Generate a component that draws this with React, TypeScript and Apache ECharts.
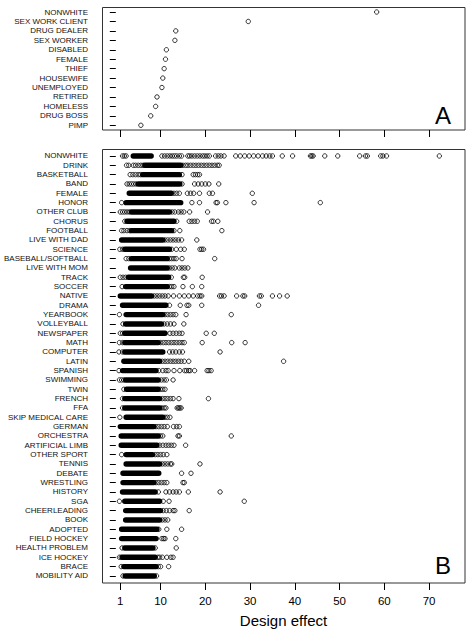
import React, { useEffect, useRef } from "react";
import * as echarts from "echarts";

const FONT = "'Liberation Sans', Arial, Helvetica, sans-serif";

const topCats = [
  "NONWHITE", "SEX WORK CLIENT", "DRUG DEALER", "SEX WORKER", "DISABLED", "FEMALE",
  "THIEF", "HOUSEWIFE", "UNEMPLOYED", "RETIRED", "HOMELESS", "DRUG BOSS", "PIMP",
];
const topVals = [58.3, 29.6, 13.4, 13.2, 11.3, 11.1, 10.8, 10.5, 10.3, 9.2, 8.9, 7.8, 5.6];

const cats = [
  "NONWHITE", "DRINK", "BASKETBALL", "BAND", "FEMALE", "HONOR", "OTHER CLUB", "CHORUS",
  "FOOTBALL", "LIVE WITH DAD", "SCIENCE", "BASEBALL/SOFTBALL", "LIVE WITH MOM", "TRACK",
  "SOCCER", "NATIVE", "DRAMA", "YEARBOOK", "VOLLEYBALL", "NEWSPAPER", "MATH", "COMPUTER",
  "LATIN", "SPANISH", "SWIMMING", "TWIN", "FRENCH", "FFA", "SKIP MEDICAL CARE", "GERMAN",
  "ORCHESTRA", "ARTIFICIAL LIMB", "OTHER SPORT", "TENNIS", "DEBATE", "WRESTLING", "HISTORY",
  "SGA", "CHEERLEADING", "BOOK", "ADOPTED", "FIELD HOCKEY", "HEALTH PROBLEM", "ICE HOCKEY",
  "BRACE", "MOBILITY AID",
];

// extent of the solid (heavily overplotted) run of points in each row
const denseLo = [
  3.9, 6.5, 6.0, 5.0, 3.0, 2.3, 3.5, 2.5, 3.5, 1.3, 2.0, 3.5, 3.3, 2.8, 2.2, 1.0,
  1.5, 2.3, 2.2, 2.0, 2.0, 2.0, 1.8, 1.5, 2.2, 2.4, 2.0, 2.0, 2.3, 1.0, 1.2, 1.2,
  2.3, 2.3, 1.6, 1.6, 1.5, 2.0, 2.2, 2.2, 1.3, 1.3, 2.0, 1.5, 1.8, 2.1,
];
const denseHi = [
  7.9, 14.5, 14.2, 14.3, 12.4, 14.5, 12.0, 13.0, 12.5, 10.5, 12.0, 11.5, 11.5, 11.8, 11.5, 8.0,
  11.2, 10.5, 10.2, 11.0, 9.5, 10.5, 9.8, 9.0, 9.5, 9.5, 9.8, 9.8, 10.5, 8.5, 9.5, 9.2,
  8.2, 9.8, 9.6, 8.5, 8.8, 9.8, 10.0, 9.8, 9.2, 9.0, 8.3, 8.8, 9.0, 8.6,
];

// separately visible points in each row
const points: number[][] = [
  [1.5, 1.9, 2.3, 10.3, 10.9, 11.5, 12.1, 12.6, 13.1, 13.6, 14.2, 14.7, 16.1, 16.5, 17.0, 17.6, 18.2, 18.8, 19.4, 19.9, 20.4, 20.9, 22.3, 22.9, 23.5, 24.2, 26.8, 27.8, 28.8, 29.8, 30.8, 31.8, 32.8, 33.6, 34.4, 35.0, 37.2, 39.5, 43.5, 43.8, 44.1, 46.7, 49.6, 54.5, 55.8, 56.2, 59.2, 59.7, 60.5, 72.3],
  [2.4, 2.9, 3.9, 4.4, 5.0, 5.6, 6.1, 15.0, 15.6, 16.1, 16.7, 17.3, 17.9, 18.5, 19.1, 19.7, 20.3, 20.9, 21.5, 22.1, 22.7, 23.1],
  [3.2, 3.8, 4.4, 5.0, 5.5, 14.8, 17.3, 17.8, 18.3, 18.7],
  [2.5, 3.0, 3.5, 4.0, 4.5, 14.8, 17.6, 18.4, 19.2, 20.0, 20.8, 23.0],
  [13.0, 13.6, 14.2, 16.0, 16.7, 17.4, 18.7, 20.9, 21.6, 30.5],
  [1.3, 17.0, 18.7, 22.4, 22.7, 24.6, 30.9, 45.7],
  [1.0, 1.5, 2.0, 2.5, 3.0, 12.6, 13.2, 14.0, 14.6, 15.2, 16.5, 20.5],
  [2.0, 13.6, 16.4, 17.0, 17.6, 18.2, 21.4, 21.8, 22.8],
  [1.3, 1.8, 2.5, 3.1, 13.0, 14.3, 23.7],
  [11.0, 11.6, 12.2, 12.8, 13.4, 14.0, 14.7, 18.1],
  [0.9, 1.5, 12.5, 13.5, 14.5, 15.3, 18.8, 19.2, 19.6],
  [2.3, 2.9, 12.0, 12.5, 13.0, 13.5, 14.8, 22.1],
  [12.0, 12.6, 13.2, 14.2, 14.8, 15.4, 16.1],
  [1.0, 1.6, 2.2, 12.4, 15.1, 15.4, 19.3],
  [1.4, 12.0, 12.5, 13.0, 15.0, 17.1, 19.2],
  [8.6, 9.2, 9.8, 10.4, 11.0, 11.7, 12.9, 14.2, 15.3, 16.3, 17.3, 18.3, 18.8, 19.2, 23.2, 23.6, 24.2, 27.0, 28.4, 28.8, 32.1, 32.5, 35.0, 36.6, 38.3],
  [12.0, 14.4, 15.9, 16.3, 19.2, 31.9],
  [0.8, 11.0, 11.6, 12.2, 12.8, 13.4, 15.7, 25.8],
  [1.6, 10.8, 11.5, 12.2, 13.0, 15.2],
  [1.0, 1.5, 12.1, 12.8, 13.5, 14.2, 14.8, 20.2, 22.0],
  [0.8, 1.5, 10.0, 10.6, 11.2, 11.8, 12.4, 13.0, 13.6, 14.2, 14.8, 15.3, 19.3, 25.9, 28.9],
  [0.7, 1.5, 12.0, 12.7, 13.4, 14.2, 14.9, 23.3],
  [10.4, 11.0, 11.6, 12.2, 12.8, 13.4, 14.0, 14.6, 15.3, 16.3, 37.5],
  [0.7, 9.6, 10.5, 11.2, 11.7, 13.0, 14.3, 15.4, 15.8, 16.3, 16.6, 17.6, 20.4, 20.8, 21.3],
  [0.8, 1.3, 1.8, 10.2, 10.8, 11.3, 12.8],
  [1.8, 10.0, 10.5, 11.0],
  [1.5, 10.4, 11.0, 11.6, 12.2, 12.8, 14.1, 20.7],
  [1.5, 10.3, 10.8, 11.2, 13.7, 14.0, 14.3, 14.6],
  [0.9, 11.0, 11.5, 12.1],
  [9.0, 9.6, 10.2, 10.8, 11.5, 12.9, 13.6, 14.2],
  [10.0, 10.5, 13.9, 14.2, 25.8],
  [9.8, 10.5, 11.2, 11.8, 12.4, 13.0, 15.6],
  [1.3, 8.8, 9.4, 10.0, 10.6, 11.4],
  [10.4, 11.0, 11.6, 12.2, 12.5, 18.8],
  [14.7, 16.8],
  [9.0, 9.6, 10.2, 10.8, 11.4, 15.0, 15.3],
  [9.5, 11.2, 12.0, 12.8, 13.5, 14.2, 16.2, 23.3],
  [0.8, 10.6, 11.9, 28.7],
  [10.6, 11.3, 12.0, 12.8, 13.2, 16.4],
  [10.4, 11.0, 11.6],
  [9.6, 11.4, 14.7],
  [10.3, 10.7, 11.0, 13.4],
  [1.4, 8.8, 13.5],
  [0.8, 1.2, 9.4, 9.8, 10.4, 11.4, 12.3, 12.8],
  [1.2, 9.5, 10.0, 11.8],
  [1.6, 9.1],
];

const xTicks = [1, 10, 20, 30, 40, 50, 60, 70];
const X_MIN = -3.09;
const X_MAX = 78.04;

const SYM = 4.4;
const BAND_H = 5.4;

export default function App() {
  const ref = useRef<HTMLDivElement>(null);
  useEffect(() => {
    if (!ref.current) return;
    const chart = echarts.init(ref.current, null, { renderer: "svg" });

    const xCommon = (gi: number, showLabels: boolean, offset: number) => ({
      type: "value",
      gridIndex: gi,
      min: X_MIN,
      max: X_MAX,
      offset,
      axisLine: { show: false },
      axisTick: {
        show: true,
        length: 7,
        inside: false,
        customValues: xTicks,
        lineStyle: { color: "#000", width: 1 },
      },
      axisLabel: {
        show: showLabels,
        customValues: xTicks,
        fontSize: 11.5,
        fontFamily: FONT,
        color: "#000",
        margin: 12,
      },
      splitLine: { show: false },
      name: showLabels ? "Design effect" : "",
      nameLocation: "middle",
      nameGap: 30,
      nameTextStyle: { fontSize: 15, fontFamily: FONT, color: "#000" },
    });

    const yCommon = (gi: number, data: string[]) => ({
      type: "category",
      gridIndex: gi,
      data,
      inverse: true,
      boundaryGap: true,
      axisLine: { show: false },
      axisTick: {
        show: true,
        alignWithLabel: true,
        length: 6,
        lineStyle: { color: "#000", width: 1 },
      },
      axisLabel: {
        interval: 0,
        fontSize: 8,
        fontFamily: FONT,
        color: "#111",
        margin: 14,
      },
      splitLine: { show: false },
    });

    const circleStyle = {
      color: "rgba(0,0,0,0)",
      borderColor: "#000",
      borderWidth: 1,
    };

    const option: any = {
      animation: false,
      backgroundColor: "#fff",
      textStyle: { fontFamily: FONT },
      grid: [
        { left: 102, top: 7.3, width: 363, height: 122.7 },
        { left: 102, top: 151.3, width: 363, height: 429.3 },
      ],
      xAxis: [xCommon(0, false, 0), xCommon(1, true, 2.4)],
      yAxis: [yCommon(0, topCats), yCommon(1, cats)],
      series: [
        {
          type: "scatter",
          xAxisIndex: 0,
          yAxisIndex: 0,
          symbol: "circle",
          symbolSize: SYM,
          itemStyle: circleStyle,
          data: topVals.map((v, i) => [v, i]),
        },
        {
          type: "custom",
          xAxisIndex: 1,
          yAxisIndex: 1,
          data: cats.map((_, i) => [denseLo[i], denseHi[i], i]),
          encode: { x: [0, 1], y: 2 },
          renderItem: (_params: any, api: any) => {
            const a = api.coord([api.value(0), api.value(2)]);
            const b = api.coord([api.value(1), api.value(2)]);
            return {
              type: "rect",
              shape: {
                x: a[0] - BAND_H / 2,
                y: a[1] - BAND_H / 2,
                width: b[0] - a[0] + BAND_H,
                height: BAND_H,
                r: BAND_H / 2,
              },
              style: { fill: "#000" },
            };
          },
        },
        {
          type: "scatter",
          xAxisIndex: 1,
          yAxisIndex: 1,
          symbol: "circle",
          symbolSize: SYM,
          itemStyle: circleStyle,
          data: points.flatMap((arr, i) => arr.map((v) => [v, i])),
        },
      ],
      graphic: [
        {
          type: "rect",
          silent: true,
          shape: { x: 102.5, y: 7.5, width: 362.5, height: 122.5 },
          style: { fill: "none", stroke: "#333", lineWidth: 1 },
        },
        {
          type: "rect",
          silent: true,
          shape: { x: 102.5, y: 149.5, width: 362.5, height: 433.5 },
          style: { fill: "none", stroke: "#333", lineWidth: 1 },
        },
        {
          type: "text",
          x: 451,
          y: 115.7,
          style: {
            text: "A",
            fontSize: 24,
            fontFamily: FONT,
            fill: "#000",
            textAlign: "right",
            textVerticalAlign: "middle",
          },
        },
        {
          type: "text",
          x: 451,
          y: 565.7,
          style: {
            text: "B",
            fontSize: 24,
            fontFamily: FONT,
            fill: "#000",
            textAlign: "right",
            textVerticalAlign: "middle",
          },
        },
      ],
    };

    chart.setOption(option);
    return () => chart.dispose();
  }, []);

  return (
    <div
      ref={ref}
      style={{ position: "absolute", left: 0, top: 0, width: 470, height: 634 }}
    />
  );
}
